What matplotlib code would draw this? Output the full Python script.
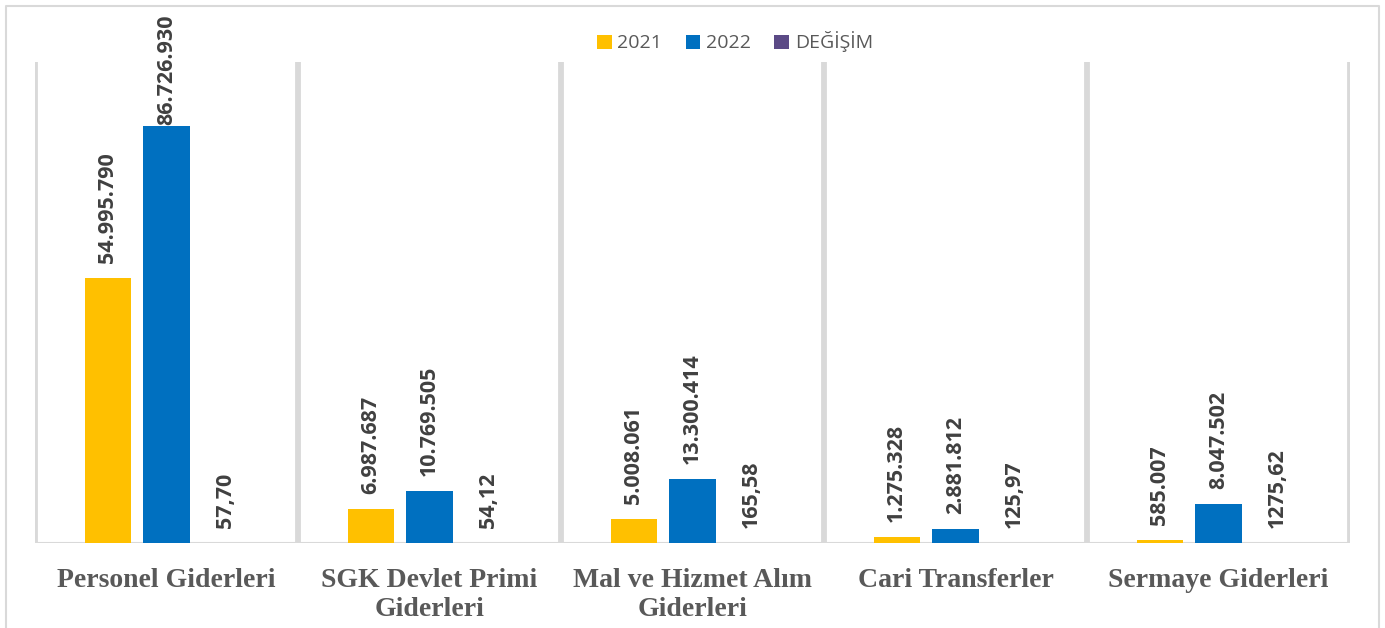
import matplotlib
matplotlib.use("Agg")
import matplotlib.pyplot as plt
from matplotlib.patches import Patch
from matplotlib.lines import Line2D
import numpy as np

categories = ["Personel Giderleri", "SGK Devlet Primi\nGiderleri", "Mal ve Hizmet Alım\nGiderleri",
              "Cari Transferler", "Sermaye Giderleri"]
series_names = ["2021", "2022", "DEĞİŞİM"]
v2021 = [54995790, 6987687, 5008061, 1275328, 585007]
v2022 = [86726930, 10769505, 13300414, 2881812, 8047502]
vdegisim = [57.70, 54.12, 165.58, 125.97, 1275.62]
colors = ["#FFC000", "#0070C0", "#5B4A86"]

W, H = 1385, 628
fig = plt.figure(figsize=(W / 100, H / 100), dpi=100)
ax = fig.add_axes([35 / W, (H - 543) / H, (1350 - 35) / W, (543 - 62) / H])

def fmt_int(v):
    return f"{v:,}".replace(",", ".")

def fmt_dec(v):
    return f"{v:.2f}".replace(".", ",")

x = np.arange(len(categories))
off = 0.224
w = 0.175
series = [v2021, v2022, vdegisim]
labels_fmt = [fmt_int, fmt_int, fmt_dec]
texts = []
for i, (vals, col, name, f) in enumerate(zip(series, colors, series_names, labels_fmt)):
    xs = x + (i - 1) * off
    ax.bar(xs, vals, width=w, color=col, label=name, zorder=3)
    for xx, v in zip(xs, vals):
        t = ax.annotate(f(v), (xx, v), xytext=(0, 11), textcoords="offset points",
                        rotation=90, ha="center", va="bottom", fontsize=15.5,
                        fontweight="bold", family="Open Sans", color="#404040",
                        annotation_clip=False, zorder=4)
        texts.append(t)

ax.set_xlim(-0.5, len(categories) - 0.5)
ax.set_ylim(0, 100e6)
for s in ax.spines.values():
    s.set_visible(False)
ax.set_yticks([])
ax.set_xticks(x)
ax.set_xticklabels(categories, family="Liberation Serif", fontweight="bold",
                   fontsize=20, color="#595959", linespacing=1.2, va="top")
ax.tick_params(axis="x", length=0, pad=18)

for b in np.arange(-0.5, len(categories), 1.0):
    ax.axvline(b, color="#D9D9D9", lw=4.2, zorder=1)
ax.axhline(0, color="#D9D9D9", lw=1.5, zorder=2)

handles = [Patch(facecolor=c, edgecolor="none") for c in colors]
fig.legend(handles, series_names, loc="center", bbox_to_anchor=(735 / W, 1 - 42 / H),
           ncol=3, frameon=False, handlelength=0.75, handleheight=0.75, handletextpad=0.3,
           columnspacing=1.2, prop={"family": "Open Sans", "size": 14},
           labelcolor="#595959")

# outer border
fig.add_artist(Line2D([6 / W, 6 / W, 1379 / W, 1379 / W], [0, 1 - 6 / H, 1 - 6 / H, 0],
                      transform=fig.transFigure, color="#D9D9D9", lw=1.5))

# keep labels inside the chart area
fig.canvas.draw()
r = fig.canvas.get_renderer()
for t in texts:
    bb = t.get_window_extent(r)
    limit = H - 14
    if bb.y1 > limit:
        xt, yt = t.xyann
        t.xyann = (xt, yt - (bb.y1 - limit) * 72 / 100)

fig.savefig("out.png", dpi=100)
